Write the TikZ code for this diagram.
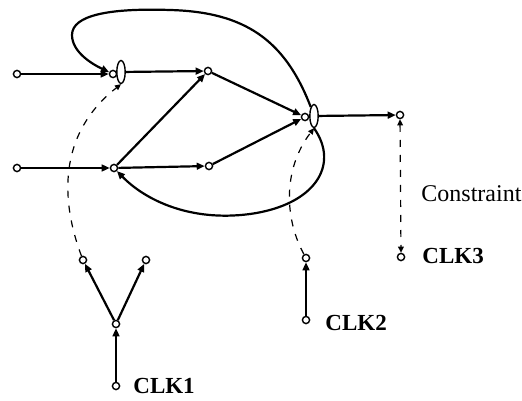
\documentclass[tikz,border=0pt]{standalone}
\usepackage{fontspec}
\setmainfont{Liberation Serif}
\usepackage{tikz}
\usetikzlibrary{arrows.meta, shapes.geometric}

\begin{document}
\begin{tikzpicture}[x=0.5pt, y=-0.5pt, >={Triangle[length=4pt, width=3.4pt]},
  pin/.style={circle, draw, line width=0.7pt, fill=white, inner sep=0pt, minimum size=3.6pt},
  latch/.style={ellipse, draw, line width=0.7pt, fill=white, inner sep=0pt,
    minimum width=4.2pt, minimum height=11.5pt},
  wire/.style={line width=1.1pt},
  clkpath/.style={line width=0.6pt, dash pattern=on 3.5pt off 4pt},
  clklabel/.style={font=\bfseries\fontsize{11.5}{13}\selectfont, anchor=base west, inner sep=0pt}]
\useasboundingbox (0,0) rectangle (522,400);
% data path
\node[pin] (in1) at (17,74) {};
\node[pin] (in2) at (17,168) {};
\node[pin] (l1c) at (113,74) {};
\node[latch] (l1e) at (121,72) {};
\node[pin] (n1) at (208,71) {};
\node[pin] (n2) at (114,168) {};
\node[pin] (n3) at (209,166) {};
\node[pin] (l2c) at (305,117) {};
\node[latch] (l2e) at (314,116) {};
\node[pin] (out) at (400,115) {};
% clock tree
\node[pin] (clk1) at (116,386) {};
\node[pin] (clk1m) at (116,324) {};
\node[pin] (clk1a) at (83,260) {};
\node[pin] (clk1b) at (146,260) {};
\node[pin] (clk2) at (306,320) {};
\node[pin] (clk2t) at (306,258) {};
\node[pin] (clk3) at (401,257) {};
\node[clklabel] (lab1) at (133,393) {CLK1};
\node[clklabel] (lab2) at (325,330) {CLK2};
\node[clklabel] (lab3) at (422,263) {CLK3};
\node[font=\fontsize{12}{14}\selectfont, anchor=base west, inner sep=0pt] (cons) at (421,201) {Constraint};

\draw[wire,->] (in1) -- (l1c);
\draw[wire,->] (l1e) -- (n1);
\draw[wire,->] (in2) -- (n2);
\draw[wire,->] (n2) -- (n1);
\draw[wire,->] (n2) -- (n3);
\draw[wire,->] (n1) -- (l2c);
\draw[wire,->] (n3) -- (l2c);
\draw[wire,->] (l2e) -- (out);
\draw[wire,->] (l2e.110) .. controls (285,40) and (245,12) .. (170,10)
  .. controls (110,8) and (72,15) .. (72,35)
  .. controls (72,52) and (92,64) .. (l1c);
\draw[wire,->] (l2e.south) .. controls (340,165) and (315,205) .. (250,214)
  .. controls (190,222) and (145,200) .. (n2);

\draw[wire,->] (clk1) -- (clk1m);
\draw[wire,->] (clk1m) -- (clk1a);
\draw[wire,->] (clk1m) -- (clk1b);
\draw[wire,->] (clk2) -- (clk2t);

\draw[clkpath,-{Triangle[length=3pt, width=2.8pt]}] (clk1a) .. controls (66,215) and (50,140) .. (l1e.south);
\draw[clkpath,-{Triangle[length=3pt, width=2.8pt]}] (clk2t) .. controls (285,220) and (282,170) .. (l2e.south);
\draw[clkpath,{Triangle[length=3pt, width=2.8pt]}-{Triangle[length=3pt, width=2.8pt]}] (out) -- (clk3);
\end{tikzpicture}
\end{document}
